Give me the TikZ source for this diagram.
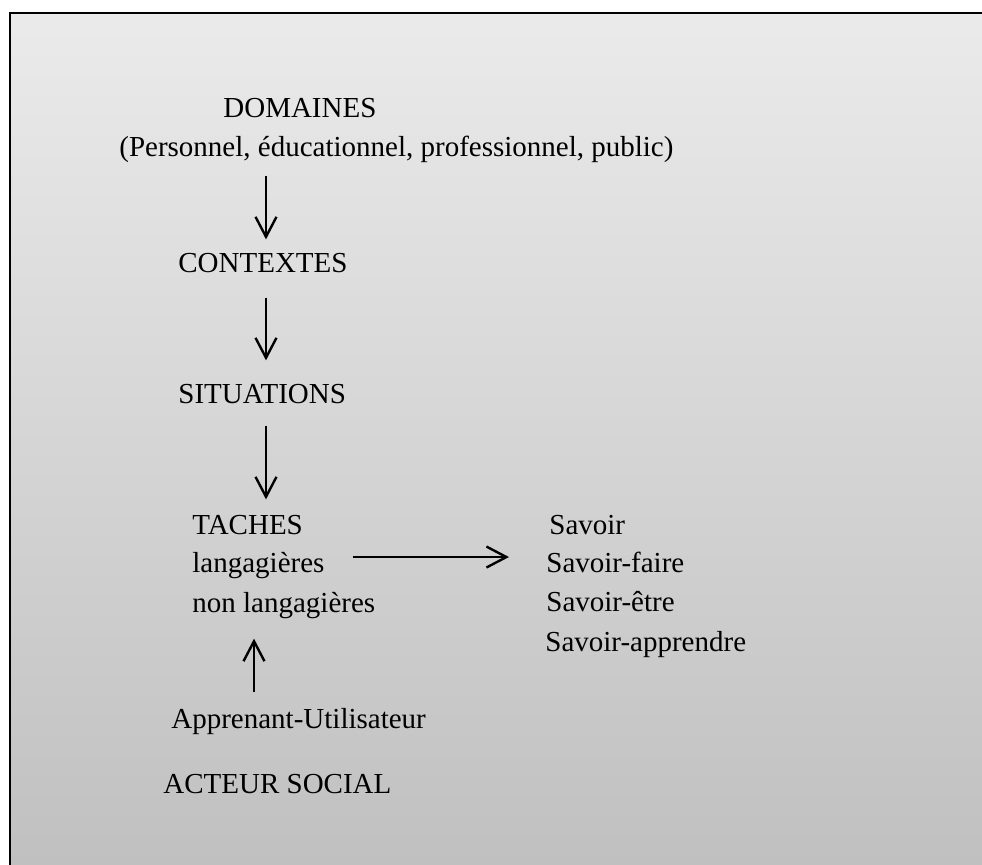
\documentclass[tikz,border=0pt]{standalone}
\usepackage{fontspec}
\setmainfont{Liberation Serif}
\usetikzlibrary{arrows.meta}

\begin{document}
\begin{tikzpicture}[
    x=0.5pt, y=-0.5pt,
    term/.style={anchor=base west, inner sep=0pt, font=\fontsize{14.5pt}{18pt}\selectfont},
    arrow/.style={-{Straight Barb[length=10pt, width=10.5pt, line width=1.2pt]}, line width=1.3pt}
]
    \useasboundingbox (0,0) rectangle (982,865);
    \clip (0,0) rectangle (982,865);
    \path[draw=black, line width=1pt, top color=black!8, bottom color=black!25] (10,13) rectangle (1000,880);

    % left column
    \node[term] (dom) at (223,118) {DOMAINES};
    \node[term] (perso) at (119,157) {(Personnel, éducationnel, professionnel, public)};
    \node[term] (ctx) at (178,273) {CONTEXTES};
    \node[term] (sit) at (178,404) {SITUATIONS};
    \node[term] (tach) at (192,535) {TACHES};
    \node[term] (lang) at (192,573) {langagières};
    \node[term] (nonlang) at (192,613) {non langagières};
    \node[term] (appr) at (171,729) {Apprenant-Utilisateur};
    \node[term] (acteur) at (163,794) {ACTEUR SOCIAL};

    % right column
    \node[term] (sav) at (549,535) {Savoir};
    \node[term] (sfaire) at (546,573) {Savoir-faire};
    \node[term] (setre) at (546,612) {Savoir-être};
    \node[term] (sappr) at (545,652) {Savoir-apprendre};

    \coordinate (axis) at (266,0);
    \coordinate (uaxis) at (254,0);

    \draw[arrow, shorten <=6pt, shorten >=7pt] (perso.south -| axis) -- (ctx.north -| axis);
    \draw[arrow, shorten <=12pt, shorten >=12pt] (ctx.south -| axis) -- (sit.north -| axis);
    \draw[arrow, shorten <=10.5pt, shorten >=8pt] (sit.south -| axis) -- (tach.north -| axis);
    \draw[arrow, shorten <=8pt, shorten >=9.5pt] (appr.north -| uaxis) -- (nonlang.south -| uaxis);
    \draw[arrow, shorten <=14pt, shorten >=18.5pt] ([yshift=4.5pt]lang.east) -- ([yshift=4.5pt]lang.east -| sfaire.west);
\end{tikzpicture}
\end{document}
